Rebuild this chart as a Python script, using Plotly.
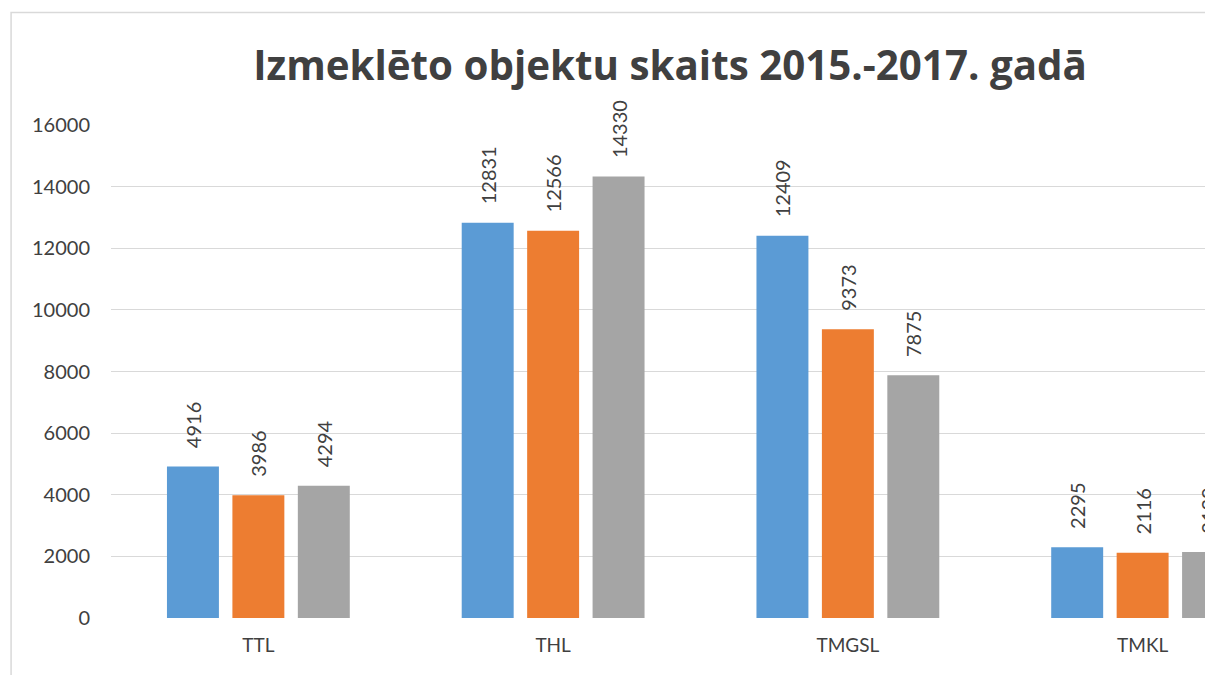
import plotly.graph_objects as go

categories = ["TTL", "THL", "TMGSL", "TMKL"]
series_names = ["2015", "2016", "2017"]
values_2015 = [4916, 12831, 12409, 2295]
values_2016 = [3986, 12566, 9373, 2116]
values_2017 = [4294, 14330, 7875, 2139]
colors = ["#5B9BD5", "#ED7D31", "#A5A5A5"]
y_ticks = [0, 2000, 4000, 6000, 8000, 10000, 12000, 14000, 16000]
y_tick_text = ["0", "2000", "4000", "6000", "8000", "10000", "12000", "14000", "16000"]
title_text = "Izmeklēto objektu skaits 2015.-2017. gadā"

# The reference is a crop of a wider chart: the figure is wider than the
# 1205px window and its right part is cut off by the page edge.
W, H = 1340, 675
ML = 110.5
MT = 125
MB = 675 - 618.5
MR = W - (ML + 4 * 295.0)
plot_w = W - ML - MR
plot_h = H - MT - MB

PAD = "\u00a0" * 3

fig = go.Figure()
for name, vals, col in zip(series_names, [values_2015, values_2016, values_2017], colors):
    fig.add_trace(go.Bar(
        x=categories, y=vals, name=name,
        marker=dict(color=col, line=dict(width=0)),
        text=[PAD + str(v) for v in vals],
        textposition="outside",
        textangle=-90,
        constraintext="none",
        cliponaxis=False,
        textfont=dict(family="Lato, Open Sans, sans-serif", size=20, color="#404040"),
    ))

fig.update_layout(
    width=W, height=H,
    margin=dict(l=ML, r=MR, t=MT, b=MB, pad=0),
    paper_bgcolor="white", plot_bgcolor="white",
    barmode="group", bargap=0.334, bargroupgap=0.206,
    showlegend=False,
    title=dict(
        text="<b>" + title_text + "</b>",
        x=670 / W, xanchor="center", xref="container",
        y=1 - 66 / H, yanchor="middle", yref="container",
        font=dict(family="Open Sans, Lato, sans-serif", size=40.3, color="#404040"),
    ),
    xaxis=dict(
        range=[-0.5, 3.5],
        showgrid=False, showline=False, zeroline=False,
        ticks="", tickfont=dict(family="Lato, Open Sans, sans-serif", size=19, color="#404040"),
        ticklabelstandoff=14,
    ),
    yaxis=dict(
        range=[0, 16000], tickvals=y_ticks, ticktext=y_tick_text,
        showgrid=True, gridcolor="#D9D9D9", gridwidth=1.3,
        zeroline=False, showline=False, ticks="",
        tickfont=dict(family="Lato, Open Sans, sans-serif", size=20, color="#404040"),
        ticklabelstandoff=20,
    ),
    font=dict(family="Lato, Open Sans, sans-serif", color="#404040"),
)

# outer chart-area border
fig.add_shape(
    type="rect", xref="paper", yref="paper",
    x0=(10.5 - ML) / plot_w, x1=(1330 - ML) / plot_w,
    y0=-0.3, y1=(H - MB - 12.5) / plot_h,
    line=dict(color="#D9D9D9", width=1.5), fillcolor="rgba(0,0,0,0)", layer="below",
)

fig.write_html(
    "out.html",
    config={"displayModeBar": False},
    post_script="document.body.style.margin='0';document.body.style.overflow='hidden';",
)
